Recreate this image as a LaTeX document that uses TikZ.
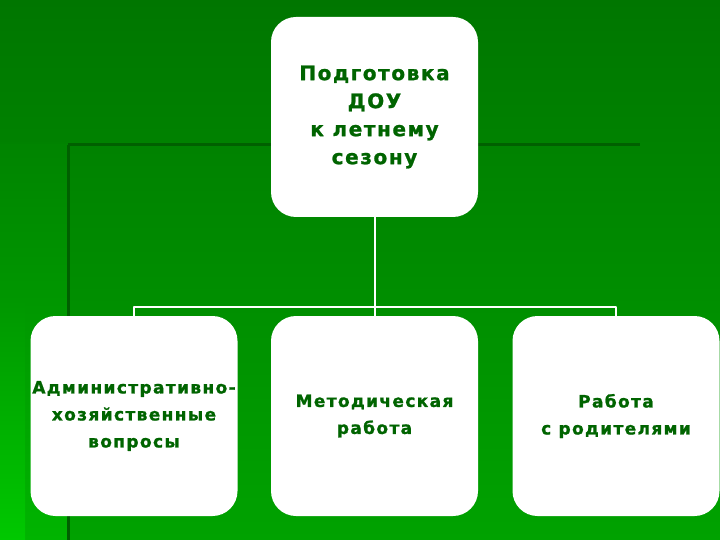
\documentclass[tikz,border=0pt]{standalone}
\usepackage{fontspec}
\setmainfont{DejaVu Sans}
\newfontfamily\cardfont[LetterSpace=8, BoldFeatures={FakeBold=1.2}]{DejaVu Sans}
\usepackage{tikz}
\definecolor{bgtop}{RGB}{0,118,0}
\definecolor{bgbot}{RGB}{0,162,0}
\definecolor{lefttop}{RGB}{0,132,0}
\definecolor{leftbot}{RGB}{0,180,0}
\definecolor{stripmid}{RGB}{0,151,0}
\definecolor{stripbot}{RGB}{0,200,0}
\definecolor{rule}{RGB}{0,96,0}
\definecolor{ink}{RGB}{0,100,0}

\begin{document}
\begin{tikzpicture}[
			x=1pt, y=-1pt,
			card/.style={draw=none, fill=white, rounded corners=25pt, inner xsep=0pt, minimum width=207pt, minimum height=200pt, align=center, text=ink, font=\cardfont\bfseries\fontsize{17}{27}\selectfont},
			link/.style={draw=white, line width=2pt},
			line cap=round,
			line join=round
			]
			\useasboundingbox (0,0) rectangle (720,540);
			% background of the slide
			\shade[top color=bgtop, bottom color=bgbot] (0,0) rectangle (720,540);
			\shade[top color=lefttop, bottom color=leftbot] (0,145) rectangle (68,540);
			\shade[top color=stripmid, bottom color=stripbot] (0,300) rectangle (25,540);
			\draw[rule, line width=3pt, line cap=butt] (68,145) -- (640,145);
			\draw[rule, line width=3pt, line cap=butt] (68,145) -- (68,540);
			
			\node[card, font=\cardfont\bfseries\fontsize{20}{28}\selectfont] (top) at (374.5,117) {Подготовка\\ДОУ\\к летнему\\сезону};
			
			\node[card] (b1) at (134,416) {Административно-\\хозяйственные\\вопросы};
			\node[card] (b2) at (374.5,416) {Методическая\\работа};
			\node[card] (b3) at (616,416) {Работа\\с родителями};
			
			\coordinate (bus) at (374.5,307);
			\draw[link] (top.south) -- (bus);
			\draw[link] (b1.north) |- (bus);
			\draw[link] (b3.north) |- (bus);
			\draw[link] (b2.north) -- (bus);
		\end{tikzpicture}
\end{document}
